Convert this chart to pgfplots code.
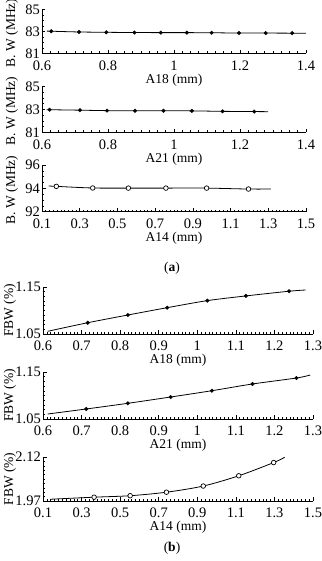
\documentclass[border=0pt]{standalone}
\usepackage{fontspec}
\setmainfont{Liberation Serif}
\usepackage{pgfplots}
\pgfplotsset{compat=1.18}

\newcommand\tickfont{\fontsize{14.5bp}{16bp}\selectfont}
\newcommand\labelfont{\fontsize{13.5bp}{15bp}\selectfont}

\pgfplotsset{
  panel/.style={
    scale only axis,
    anchor=south west,
    axis lines=left,
    axis line style={-, line width=0.8pt},
    tick align=inside,
    tick style={black, line width=0.6pt},
    major tick length=3.5bp,
    minor tick length=2bp,
    /pgf/number format/assume math mode=true,
    ticklabel style={font=\tickfont},
    xticklabel style={inner xsep=0pt, inner ysep=0pt, yshift=-7bp},
    yticklabel style={inner ysep=0pt, inner xsep=2bp},
    every axis x label/.style={at={([yshift=-26.5bp]axis description cs:0.5,0)}, anchor=center, font=\labelfont},
    every axis y label/.style={at={([xshift=-30bp,yshift=-1.5bp]axis description cs:0,0.5)}, anchor=center, rotate=90, font=\labelfont},
    clip=false,
  },
  fbw label/.style={every axis y label/.style={at={([xshift=-33bp]axis description cs:0,0.5)}, anchor=center, rotate=90, font=\labelfont}},
  curve/.style={black, line width=0.8pt, smooth, no markers},
  dots/.style={only marks, mark=*, mark size=1.8bp, mark options={fill=black, draw=black}},
  rings/.style={only marks, mark=*, mark size=2.3bp, mark options={fill=white, draw=black, line width=0.7pt}},
}

\begin{document}
\begin{tikzpicture}
\useasboundingbox (0,0) rectangle (322bp,561bp);

% ---------- (a) bandwidth ----------
\begin{axis}[panel, at={(42bp,507.7bp)}, width=264bp, height=43.5bp,
  xmin=0.6, xmax=1.4, ymin=81, ymax=85,
  xtick={0.6,0.8,...,1.4}, ytick={81,83,85},
  minor x tick num=7, minor y tick num=3,
  xlabel={A18 (mm)}, ylabel={B. W (MHz)}]
\addplot[curve] coordinates {(0.615,83.04) (0.628,83.03) (0.712,82.96) (0.795,82.93) (0.880,82.91) (0.960,82.90) (1.039,82.90) (1.114,82.89) (1.197,82.86) (1.278,82.86) (1.358,82.85) (1.40,82.84)};
\addplot[dots] coordinates {(0.628,83.03) (0.712,82.96) (0.795,82.93) (0.880,82.91) (0.960,82.90) (1.039,82.90) (1.114,82.89) (1.197,82.86) (1.278,82.86) (1.358,82.85)};
\end{axis}

\begin{axis}[panel, at={(42bp,428.5bp)}, width=264bp, height=46bp,
  xmin=0.6, xmax=1.4, ymin=81, ymax=85,
  xtick={0.6,0.8,...,1.4}, ytick={81,83,85},
  minor x tick num=7, minor y tick num=3,
  xlabel={A21 (mm)}, ylabel={B. W (MHz)}]
\addplot[curve] coordinates {(0.615,82.98) (0.623,82.98) (0.715,82.94) (0.797,82.90) (0.882,82.89) (0.968,82.89) (1.054,82.88) (1.147,82.84) (1.243,82.82) (1.285,82.81)};
\addplot[dots] coordinates {(0.623,82.98) (0.715,82.94) (0.797,82.90) (0.882,82.89) (0.968,82.89) (1.054,82.88) (1.147,82.84) (1.243,82.82)};
\end{axis}

\begin{axis}[panel, at={(42bp,349.3bp)}, width=264bp, height=46.7bp,
  xmin=0.1, xmax=1.5, ymin=92, ymax=96,
  xtick={0.1,0.3,...,1.5}, ytick={92,94,96},
  minor x tick num=9, minor y tick num=3,
  xlabel={A14 (mm)}, ylabel={B. W (MHz)}]
\addplot[curve] coordinates {(0.135,94.20) (0.176,94.17) (0.369,94.03) (0.558,94.02) (0.757,94.02) (0.973,94.02) (1.195,93.94) (1.314,93.94)};
\addplot[rings] coordinates {(0.176,94.17) (0.369,94.03) (0.558,94.02) (0.757,94.02) (0.973,94.02) (1.195,93.94)};
\end{axis}

\node[font=\labelfont] at (172bp,293bp) {(\textbf{a})};

% ---------- (b) fractional bandwidth ----------
\begin{axis}[panel, fbw label, at={(43bp,227bp)}, width=270bp, height=47bp,
  xmin=0.6, xmax=1.3, ymin=1.05, ymax=1.15,
  xtick={0.6,0.7,...,1.3}, ytick={1.05,1.15},
  yticklabels={1.05,1.15},
  minor x tick num=9, minor y tick num=9,
  xlabel={A18 (mm)}, ylabel={FBW (\%)}]
\addplot[curve, smooth=false] coordinates {(0.612,1.0557) (0.716,1.0740) (0.820,1.0904) (0.922,1.1060) (1.026,1.1210) (1.126,1.1310) (1.238,1.1410) (1.281,1.1436)};
\addplot[dots] coordinates {(0.716,1.0740) (0.820,1.0904) (0.922,1.1060) (1.026,1.1210) (1.126,1.1310) (1.238,1.1410)};
\end{axis}

\begin{axis}[panel, fbw label, at={(43bp,142bp)}, width=270bp, height=47bp,
  xmin=0.6, xmax=1.3, ymin=1.05, ymax=1.15,
  xtick={0.6,0.7,...,1.3}, ytick={1.05,1.15},
  yticklabels={1.05,1.15},
  minor x tick num=9, minor y tick num=9,
  xlabel={A21 (mm)}, ylabel={FBW (\%)}]
\addplot[curve] coordinates {(0.612,1.0606) (0.712,1.0713) (0.820,1.0834) (0.931,1.0968) (1.038,1.1102) (1.143,1.1245) (1.257,1.1372) (1.293,1.1436)};
\addplot[dots] coordinates {(0.712,1.0713) (0.820,1.0834) (0.931,1.0968) (1.038,1.1102) (1.143,1.1245) (1.257,1.1372)};
\end{axis}

\begin{axis}[panel, fbw label, at={(43bp,60bp)}, width=270bp, height=44bp,
  xmin=0.1, xmax=1.5, ymin=1.97, ymax=2.12,
  xtick={0.1,0.3,...,1.5}, ytick={1.97,2.12},
  yticklabels={1.97,2.12},
  minor x tick num=9, minor y tick num=9,
  xlabel={A14 (mm)}, ylabel={FBW (\%)}]
\addplot[curve] coordinates {(0.138,1.976) (0.365,1.983) (0.552,1.988) (0.740,2.000) (0.931,2.021) (1.115,2.056) (1.296,2.101) (1.353,2.119)};
\addplot[rings] coordinates {(0.365,1.983) (0.552,1.988) (0.740,2.000) (0.931,2.021) (1.115,2.056) (1.296,2.101)};
\end{axis}

\node[font=\labelfont] at (172bp,13bp) {(\textbf{b})};
\end{tikzpicture}
\end{document}
